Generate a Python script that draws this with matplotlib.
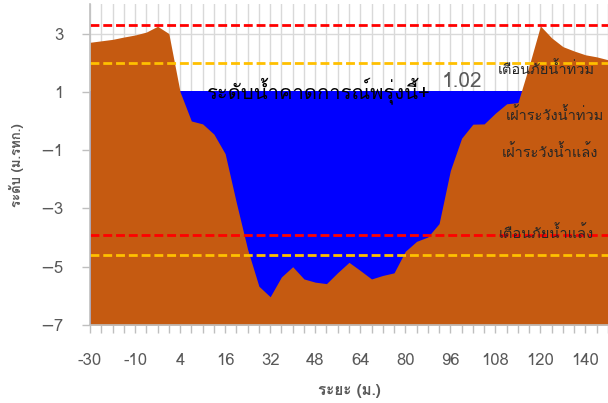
import matplotlib
matplotlib.use("Agg")
import matplotlib.pyplot as plt
import numpy as np

# distance categories (one per surveyed point), labels shown every 4th
x_labels = ["-30", "-10", "4", "16", "32", "48", "64", "80", "96", "108", "120", "140"]
ground = [2.70, 2.75, 2.80, 2.88, 2.95, 3.05, 3.25, 3.00,
          1.00, 0.00, -0.10, -0.45, -1.12, -2.81, -4.41, -5.67,
          -6.03, -5.35, -5.00, -5.42, -5.53, -5.58, -5.20, -4.85,
          -5.13, -5.42, -5.30, -5.21, -4.47, -4.13, -3.98, -3.52,
          -1.70, -0.59, -0.11, -0.10, 0.27, 0.59, 0.63, 1.90,
          3.26, 2.85, 2.55, 2.40, 2.27, 2.20, 2.10]
water_level = 1.02
flood_warn = 3.3      # เตือนภัยน้ำท่วม
flood_watch = 2.0     # เฝ้าระวังน้ำท่วม
drought_watch = -3.9  # เฝ้าระวังน้ำแล้ง
drought_warn = -4.6   # เตือนภัยน้ำแล้ง

plt.rcParams['font.family'] = ['Loma', 'DejaVu Sans']

idx = np.arange(len(ground))
ymin, ymax = -7, 4

fig = plt.figure(figsize=(6.08, 4.03), dpi=100)
ax = fig.add_axes([90 / 608, 1 - 325 / 403, 518 / 608, (325 - 4.4) / 403])

ax.fill_between(idx, ymin, water_level, color="#0000FF", lw=0, zorder=2)
ax.fill_between(idx, ymin, ground, color="#C55A11", lw=0, zorder=3)

for y, c in [(flood_warn, "#FF0000"), (flood_watch, "#FFC000"),
             (drought_watch, "#FF0000"), (drought_warn, "#FFC000")]:
    ax.axhline(y, color=c, lw=2.0, linestyle=(0, (3.2, 1.4)), zorder=4)

ax.set_xlim(0, len(ground) - 1)
ax.set_ylim(ymin, ymax)
ax.set_yticks(np.arange(-7, 4, 2))
ax.set_xticks(idx)
ax.set_xticklabels([x_labels[i // 4] if i % 4 == 0 else "" for i in idx])

ax.grid(True, color="#D9D9D9", lw=1.0)
ax.set_axisbelow(True)
for s in ["top", "right"]:
    ax.spines[s].set_visible(False)
for s in ["left", "bottom"]:
    ax.spines[s].set_color("#BFBFBF")
    ax.spines[s].set_linewidth(1.2)
    ax.spines[s].set_zorder(5)
ax.tick_params(axis="both", direction="out", length=6, width=1, color="#BFBFBF",
               labelcolor="#595959", labelsize=12)
ax.tick_params(axis="y", pad=13)
ax.tick_params(axis="x", pad=14)

ax.set_ylabel("ระดับ (ม.รทก.)", fontsize=9.5, fontweight="bold", color="#595959", labelpad=12)
ax.set_xlabel("ระยะ (ม.)", fontsize=11, fontweight="bold", color="#595959", labelpad=11)

ax.text(10.4, 0.76, "ระดับน้ำคาดการณ์พรุ่งนี้+", fontsize=14.5, color="black",
        va="baseline", ha="left", zorder=6)
ax.text(31.2, 1.17, f"{water_level:.2f}", fontsize=15, color="#595959",
        va="baseline", ha="left", zorder=6)

labels = [(40.5, 1.62, "เตือนภัยน้ำท่วม"), (41.3, 0.04, "เฝ้าระวังน้ำท่วม"),
          (40.8, -1.23, "เฝ้าระวังน้ำแล้ง"), (40.5, -4.0, "เตือนภัยน้ำแล้ง")]
for lx, ly, t in labels:
    ax.text(lx, ly, t, fontsize=10.5, color="#262626", ha="center", va="baseline", zorder=6)

fig.savefig("out.png", dpi=100)
